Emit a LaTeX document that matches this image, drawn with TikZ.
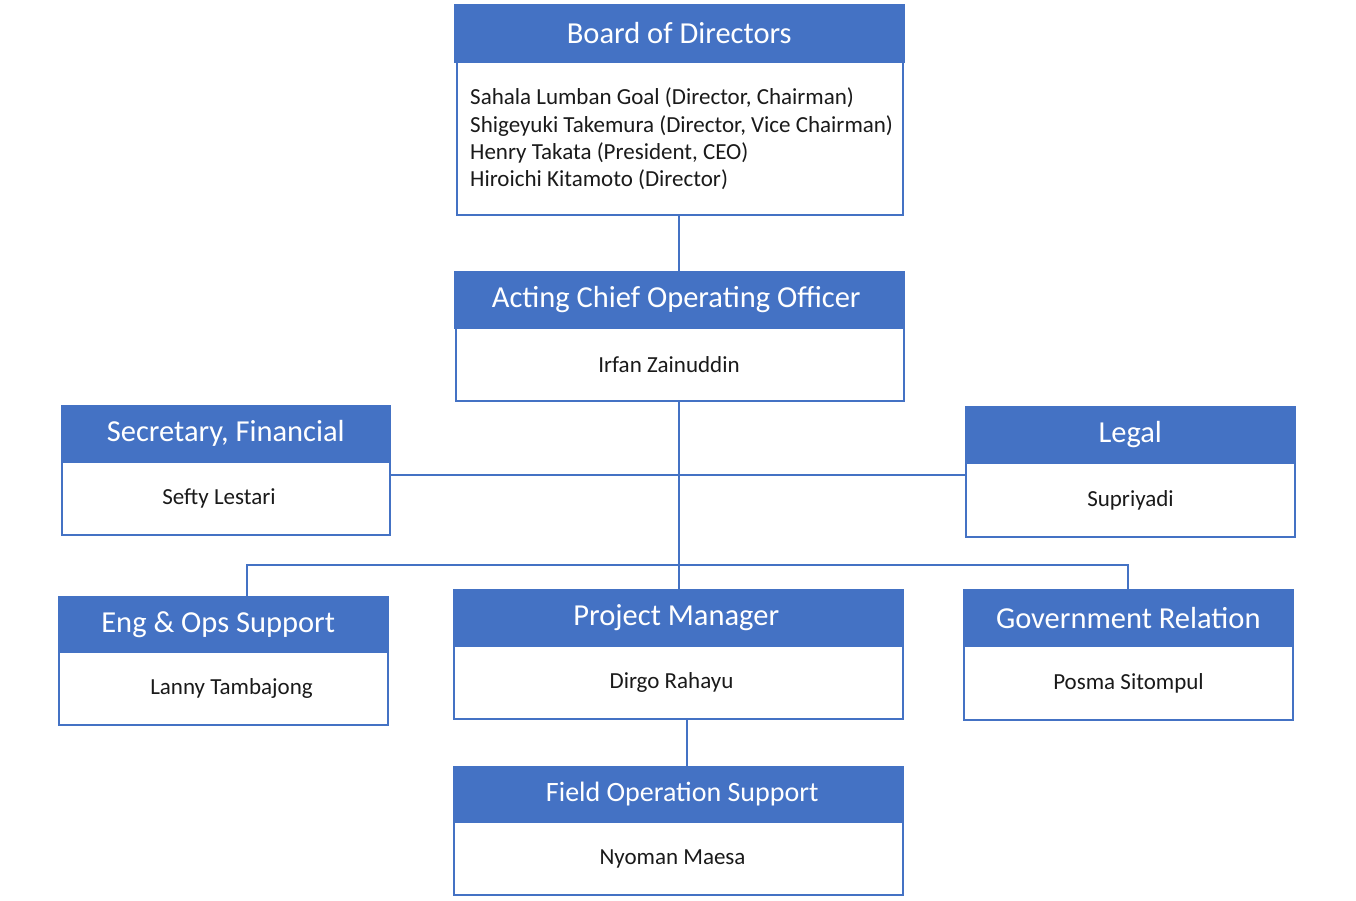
\documentclass[tikz,border=0pt]{standalone}
\usepackage{fontspec}
\setmainfont{Carlito}
\definecolor{hblue}{HTML}{4472C4}
\definecolor{txt}{HTML}{1A1A1A}
\begin{document}
\begin{tikzpicture}[x=1pt,y=-1pt,
  hdr/.style={rectangle, fill=hblue, draw=hblue, line width=1.5pt, text=white, anchor=north west,
    inner sep=0pt, font=\fontsize{30.5}{36}\selectfont},
  bdy/.style={rectangle, fill=white, draw=hblue, line width=2pt, text=txt, anchor=north west,
    inner sep=0pt, font=\fontsize{23}{27.5}\selectfont},
  conn/.style={draw=hblue, line width=2pt}]
\useasboundingbox (0,0) rectangle (1356,900);

% Board of Directors
\node[bdy, minimum width=446pt, minimum height=153pt] (bb) at (456,61) {};
\node[text=txt, font=\fontsize{23}{27.4}\selectfont, align=left, anchor=west, inner sep=0pt] (bt) at (470,139)
  {Sahala Lumban Goal (Director, Chairman)\\Shigeyuki Takemura (Director, Vice Chairman)\\Henry Takata (President, CEO)\\Hiroichi Kitamoto (Director)};
\node[hdr, minimum width=449pt, minimum height=57pt] (bh) at (454,4) {Board of Directors};

% Acting COO
\node[bdy, minimum width=448pt, minimum height=73pt] (ab) at (455,327) {\hspace*{-22pt}Irfan Zainuddin};
\node[hdr, minimum width=449pt, minimum height=56pt] (ah) at (454,271) {\hspace*{-6pt}Acting Chief Operating Officer};

% Secretary, Financial
\node[bdy, minimum width=328pt, minimum height=73pt] (sb) at (61,461) {\hspace*{-14pt}Sefty Lestari};
\node[hdr, minimum width=328pt, minimum height=56pt] (sh) at (61,405) {Secretary, Financial};

% Legal
\node[bdy, minimum width=329pt, minimum height=74pt] (lb) at (965,462) {Supriyadi};
\node[hdr, minimum width=329pt, minimum height=56pt] (lh) at (965,406) {Legal};

% Eng & Ops Support
\node[bdy, minimum width=329pt, minimum height=73pt] (eb) at (58,651) {\hspace*{16pt}Lanny Tambajong};
\node[hdr, minimum width=329pt, minimum height=55pt] (eh) at (58,596) {\hspace*{-10pt}Eng \& Ops Support};

% Project Manager
\node[bdy, minimum width=449pt, minimum height=73pt] (pb) at (453,645) {\hspace*{-14pt}Dirgo Rahayu};
\node[hdr, minimum width=449pt, minimum height=56pt] (ph) at (453,589) {\hspace*{-4pt}Project Manager};

% Government Relation
\node[bdy, minimum width=329pt, minimum height=74pt] (gb) at (963,645) {Posma Sitompul};
\node[hdr, minimum width=329pt, minimum height=56pt] (gh) at (963,589) {Government Relation};

% Field Operation Support
\node[bdy, minimum width=449pt, minimum height=73pt] (fb) at (453,821) {\hspace*{-12pt}Nyoman Maesa};
\node[hdr, minimum width=449pt, minimum height=55pt, font=\fontsize{28}{34}\selectfont] (fh) at (453,766) {\hspace*{8pt}Field Operation Support};

% connectors
\coordinate (cx) at (679,0);
\coordinate (y475) at (0,475);
\coordinate (busL) at (247,565);
\coordinate (busR) at (1128,565);
\coordinate (fx) at (687,0);

\draw[conn] (bb.south -| cx) -- (ah.north -| cx);
\draw[conn] (ab.south -| cx) -- (ph.north -| cx);
\draw[conn] (sb.east |- y475) -- (lb.west |- y475);
\draw[conn] (eh.north -| busL) -- (busL) -- (busR) -- (gh.north -| busR);
\draw[conn] (pb.south -| fx) -- (fh.north -| fx);
\end{tikzpicture}
\end{document}
